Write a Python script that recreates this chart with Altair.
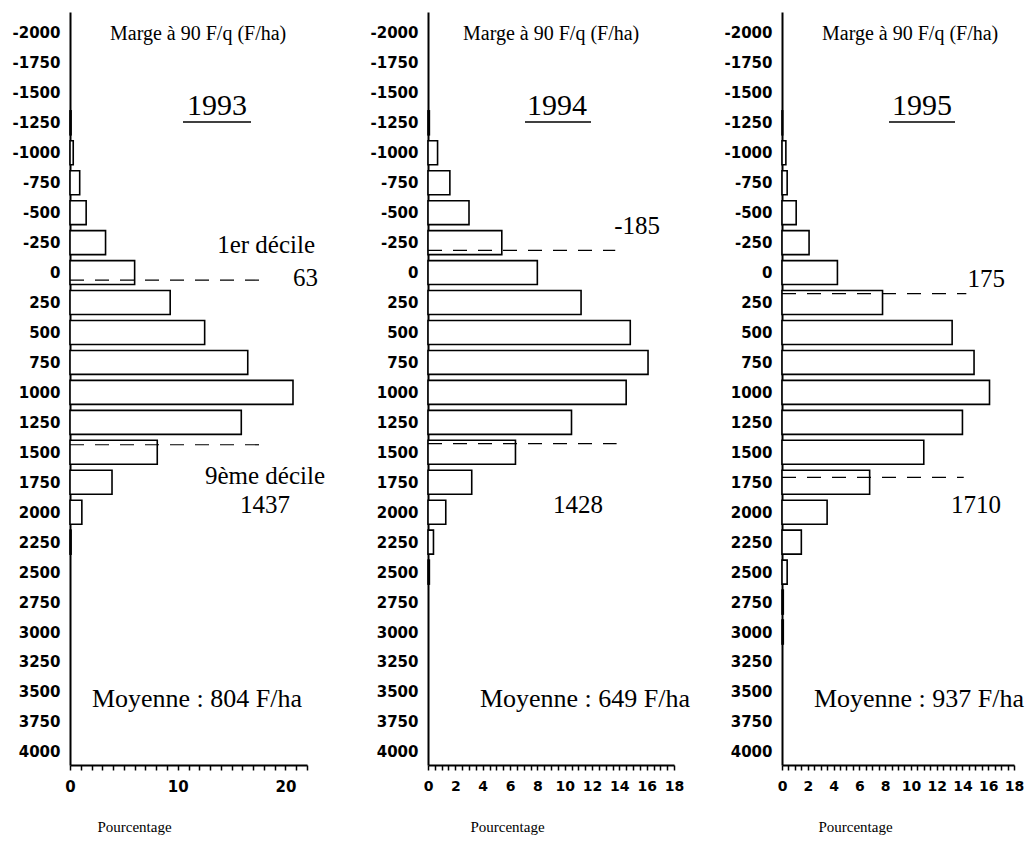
import altair as alt
import pandas as pd

# ---------------- data ----------------
bins = list(range(-2000, 4001, 250))
years = ["1993", "1994", "1995"]
pct_1993 = [0, 0, 0, 0.1, 0.3, 0.9, 1.5, 3.3, 6.0, 9.3, 12.5, 16.5, 20.7, 15.9, 8.1, 3.9, 1.1, 0.1,
            0, 0, 0, 0, 0, 0, 0]
pct_1994 = [0, 0, 0, 0.1, 0.7, 1.6, 3.0, 5.4, 8.0, 11.2, 14.8, 16.1, 14.5, 10.5, 6.4, 3.2, 1.3, 0.4,
            0.1, 0, 0, 0, 0, 0, 0]
pct_1995 = [0, 0, 0, 0.05, 0.3, 0.4, 1.1, 2.1, 4.3, 7.8, 13.2, 14.9, 16.1, 14.0, 11.0, 6.8, 3.5, 1.5,
            0.4, 0.1, 0.1, 0, 0, 0, 0]
decile_1 = [63, -185, 175]
decile_9 = [1437, 1428, 1710]
means = [804, 649, 937]
x_ticks_1993 = list(range(0, 23))
x_ticks_other = [i / 2 for i in range(37)]
y_title = "Marge à 90 F/q (F/ha)"
x_title = "Pourcentage"
decile_1_label = "1er décile"
decile_9_label = "9ème décile"

# ---------------- layout ----------------
H = 753
W = 950
Y_DOMAIN = [-2175, 4110]
SERIF = "Liberation Serif"
SANS = "DejaVu Sans"

layout = [
    dict(x0=0, w=237, xmax=22, ticks=x_ticks_1993, every=10, lab=15, title_x=64,
         rule_end=[17.6, 17.8], marge=(40, 28), year=(147, 103), ul=(113, 181, 110),
         d1=(248, 274, "right"), d1lab=(245, 241), d9=(195, 501, "center"), d9lab=(255, 472),
         mean=(127, 695)),
    dict(x0=358, w=246, xmax=18, ticks=x_ticks_other, every=2, lab=14, title_x=437,
         rule_end=[13.7, 13.8], marge=(393, 28), year=(487, 103), ul=(455, 521, 110),
         d1=(590, 222, "right"), d1lab=None, d9=(508, 501, "center"), d9lab=None,
         mean=(515, 695)),
    dict(x0=712, w=232, xmax=18, ticks=x_ticks_other, every=2, lab=14, title_x=785,
         rule_end=[14.3, 14.1], marge=(752, 28), year=(852, 103), ul=(819, 885, 110),
         d1=(935, 275, "right"), d1lab=None, d9=(906, 501, "center"), d9lab=None,
         mean=(849, 695)),
]


def make_panel(i, pct, cfg):
    df = pd.DataFrame({"bin": bins, "pct": pct})
    xs = alt.Scale(domain=[0, cfg["xmax"]], range=[cfg["x0"], cfg["x0"] + cfg["w"]],
                   nice=False, zero=False)
    ys = alt.Scale(domain=Y_DOMAIN, reverse=True, nice=False, zero=False)
    xaxis = alt.Axis(
        orient="bottom", values=cfg["ticks"],
        labelExpr=f"datum.value % {cfg['every']} === 0 ? format(datum.value, 'd') : ''",
        title=x_title, titleX=cfg["title_x"], titleY=66, titleAlign="center",
        titleBaseline="alphabetic", titleAngle=0, titleFont=SERIF, titleFontSize=15,
        titleFontWeight="normal", titleColor="black",
        labelFont=SANS, labelFontWeight="bold", labelFontSize=cfg["lab"], labelColor="black",
        labelPadding=9, labelFlush=False, labelOverlap=False,
        tickSize=5, tickWidth=1.5, tickColor="black",
        domainColor="black", domainWidth=2, grid=False,
    )
    yaxis = alt.Axis(
        orient="left", offset=-cfg["x0"], values=bins,
        labelExpr="(datum.value < 0 ? '-' : '') + format(abs(datum.value), 'd')",
        title=None, ticks=False, labelPadding=10,
        labelFont=SANS, labelFontWeight="bold", labelFontSize=15, labelColor="black",
        labelFlush=False, labelOverlap=False,
        domainColor="black", domainWidth=2, grid=False,
    )
    bars = (
        alt.Chart(df)
        .transform_filter("datum.pct > 0")
        .transform_calculate(lo="datum.bin - 100", hi="datum.bin + 100", z="0")
        .mark_rect(fill="white", stroke="black", strokeWidth=1.6)
        .encode(
            x=alt.X("pct:Q", scale=xs, axis=xaxis),
            x2="z:Q",
            y=alt.Y("lo:Q", scale=ys, axis=yaxis),
            y2="hi:Q",
        )
    )
    dec = pd.DataFrame({"d": [decile_1[i], decile_9[i]], "end": cfg["rule_end"]})
    rules = (
        alt.Chart(dec)
        .transform_calculate(z="0")
        .mark_rule(stroke="black", strokeWidth=1.2, strokeDash=[14, 11])
        .encode(
            x=alt.X("z:Q", scale=xs, axis=xaxis),
            x2="end:Q",
            y=alt.Y("d:Q", scale=ys, axis=yaxis),
        )
    )
    return alt.layer(bars, rules)


def label(txt, x, y, size, align="center"):
    return (
        alt.Chart(pd.DataFrame({"t": [txt]}))
        .mark_text(font=SERIF, fontSize=size, align=align, baseline="alphabetic", color="black")
        .encode(x=alt.value(x), y=alt.value(y), text="t:N")
    )


def underline(x1, x2, y):
    return (
        alt.Chart(pd.DataFrame({"a": [0]}))
        .mark_rule(stroke="black", strokeWidth=1.3)
        .encode(x=alt.value(x1), x2=alt.value(x2), y=alt.value(y))
    )


panels = []
texts = []
for i, (pct, cfg) in enumerate(zip([pct_1993, pct_1994, pct_1995], layout)):
    panels.append(make_panel(i, pct, cfg))
    texts.append(label(y_title, cfg["marge"][0], cfg["marge"][1], 20, "left"))
    texts.append(label(years[i], cfg["year"][0], cfg["year"][1], 30, "center"))
    texts.append(underline(*cfg["ul"]))
    texts.append(label(str(decile_1[i]), cfg["d1"][0], cfg["d1"][1], 25, cfg["d1"][2]))
    texts.append(label(str(decile_9[i]), cfg["d9"][0], cfg["d9"][1], 25, cfg["d9"][2]))
    if cfg["d1lab"]:
        texts.append(label(decile_1_label, cfg["d1lab"][0], cfg["d1lab"][1], 25, "right"))
    if cfg["d9lab"]:
        texts.append(label(decile_9_label, cfg["d9lab"][0], cfg["d9lab"][1], 25, "right"))
    texts.append(label(f"Moyenne : {means[i]} F/ha", cfg["mean"][0], cfg["mean"][1], 26, "center"))

chart = (
    alt.layer(*panels, *texts)
    .resolve_scale(x="independent", y="independent")
    .properties(
        width=W, height=H,
        padding={"left": 62, "top": 4, "right": 8, "bottom": 71},
        autosize=alt.AutoSizeParams(type="none"),
        background="white",
    )
    .configure_view(stroke=None)
)

chart.save("out.html", embed_options={"renderer": "svg", "actions": False})
